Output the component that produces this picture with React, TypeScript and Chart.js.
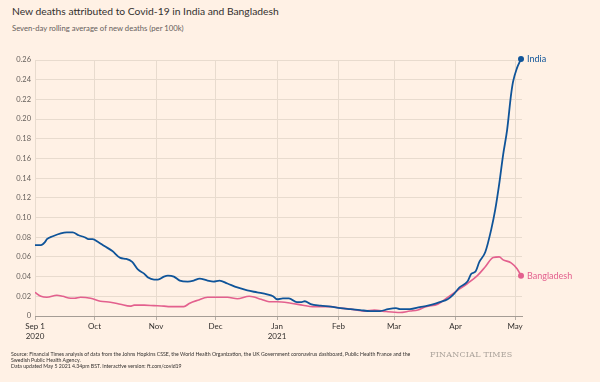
import React, { useEffect, useRef } from "react";
import { Chart, registerables } from "chart.js";

Chart.register(...registerables);

// Days since 1 Sep 2020
const monthTickDays = [0, 30, 61, 91, 122, 153, 181, 212, 242];
const monthTickLabels: string[][] = [["Sep 1", "2020"], ["Oct"], ["Nov"], ["Dec"], ["Jan", "2021"], ["Feb"], ["Mar"], ["Apr"], ["May"]];
const yTickValues = [0, 0.02, 0.04, 0.06, 0.08, 0.1, 0.12, 0.14, 0.16, 0.18, 0.2, 0.22, 0.24, 0.26];

const indiaDays = [0, 3, 5, 6, 9, 13, 16, 19, 22, 25, 27, 29, 32, 35, 39, 43, 46, 49, 52, 55, 57, 60, 62, 65, 67, 70, 73, 77, 80, 83, 87, 90, 93, 97, 102, 107, 112, 117, 120, 122, 125, 128, 132, 134, 136, 139, 144, 149, 154, 159, 164, 169, 174, 178, 182, 184, 189, 194, 198, 201, 204, 208, 211, 214, 218, 220, 222, 224, 227, 230, 232, 234, 236, 238, 240, 241, 243, 245];
const indiaDeaths = [0.072, 0.072, 0.075, 0.078, 0.081, 0.084, 0.085, 0.085, 0.082, 0.080, 0.078, 0.078, 0.075, 0.071, 0.066, 0.059, 0.058, 0.055, 0.047, 0.043, 0.039, 0.037, 0.037, 0.040, 0.041, 0.040, 0.036, 0.035, 0.036, 0.038, 0.036, 0.035, 0.036, 0.033, 0.029, 0.026, 0.024, 0.022, 0.020, 0.017, 0.018, 0.018, 0.014, 0.014, 0.015, 0.012, 0.0105, 0.0095, 0.008, 0.007, 0.006, 0.005, 0.005, 0.007, 0.008, 0.007, 0.007, 0.009, 0.0105, 0.012, 0.014, 0.017, 0.022, 0.029, 0.035, 0.043, 0.045, 0.055, 0.065, 0.088, 0.108, 0.134, 0.164, 0.189, 0.225, 0.238, 0.252, 0.261];

const bangladeshDays = [0, 3, 6, 11, 14, 18, 20, 23, 28, 33, 38, 43, 48, 50, 55, 60, 65, 68, 75, 78, 82, 87, 93, 97, 102, 108, 114, 118, 122, 129, 135, 140, 144, 149, 154, 159, 166, 171, 177, 184, 189, 193, 197, 203, 208, 213, 218, 223, 227, 231, 234, 236, 240, 243, 245];
const bangladeshDeaths = [0.024, 0.020, 0.019, 0.021, 0.020, 0.018, 0.018, 0.019, 0.018, 0.015, 0.014, 0.012, 0.010, 0.011, 0.011, 0.0105, 0.010, 0.0095, 0.0095, 0.013, 0.016, 0.019, 0.019, 0.019, 0.0175, 0.020, 0.017, 0.0145, 0.0145, 0.013, 0.011, 0.0095, 0.0095, 0.0095, 0.008, 0.007, 0.005, 0.006, 0.0045, 0.0035, 0.005, 0.006, 0.0095, 0.012, 0.019, 0.026, 0.033, 0.041, 0.050, 0.0595, 0.060, 0.057, 0.054, 0.048, 0.041];

const FONT = "Lato, 'Open Sans', sans-serif";
const INDIA_COLOR = "#0f5499";
const BANGLADESH_COLOR = "#e3608e";

const endLabels = {
  id: "endLabels",
  afterDatasetsDraw(chart: any) {
    const ctx = chart.ctx;
    chart.data.datasets.forEach((ds: any, i: number) => {
      const meta = chart.getDatasetMeta(i);
      const pt = meta.data[meta.data.length - 1];
      if (!pt) return;
      ctx.save();
      ctx.fillStyle = ds.borderColor;
      ctx.beginPath();
      ctx.arc(pt.x, pt.y, 3, 0, Math.PI * 2);
      ctx.fill();
      ctx.font = "9px " + FONT;
      ctx.textBaseline = "middle";
      ctx.textAlign = "left";
      ctx.fillText(ds.label, pt.x + 6, pt.y);
      ctx.restore();
    });
  },
};

export default function App() {
  const ref = useRef<HTMLCanvasElement>(null);
  useEffect(() => {
    document.body.style.margin = "0";
    const chart = new Chart(ref.current!, {
      type: "line",
      data: {
        datasets: [
          {
            label: "India",
            data: indiaDays.map((d, i) => ({ x: d, y: indiaDeaths[i] })),
            borderColor: INDIA_COLOR,
            borderWidth: 1.8,
            pointRadius: 0,
            cubicInterpolationMode: "monotone",
          },
          {
            label: "Bangladesh",
            data: bangladeshDays.map((d, i) => ({ x: d, y: bangladeshDeaths[i] })),
            borderColor: BANGLADESH_COLOR,
            borderWidth: 1.6,
            pointRadius: 0,
            cubicInterpolationMode: "monotone",
          },
        ],
      },
      options: {
        responsive: false,
        animation: false,
        layout: { padding: { top: 60, right: 78, left: 0, bottom: 0 } },
        plugins: { legend: { display: false }, tooltip: { enabled: false } },
        scales: {
          x: {
            type: "linear",
            min: 0,
            max: 245.5,
            afterBuildTicks: (scale: any) => {
              scale.ticks = monthTickDays.map((v) => ({ value: v }));
            },
            afterFit: (scale: any) => {
              scale.height = 66;
            },
            ticks: {
              autoSkip: false,
              maxRotation: 0,
              padding: 2,
              color: "#33302e",
              font: { family: FONT, size: 8 },
              callback: (_v: any, i: number) => monthTickLabels[i],
            },
            grid: { color: "#e8dbce", tickLength: 4, tickColor: "#b8afa6" },
            border: { color: "#a59d95", width: 1 },
          },
          y: {
            min: 0,
            max: 0.26,
            afterBuildTicks: (scale: any) => {
              scale.ticks = yTickValues.map((v) => ({ value: v }));
            },
            afterFit: (scale: any) => {
              scale.width = 35;
            },
            ticks: {
              padding: 4,
              color: "#66605c",
              font: { family: FONT, size: 7.5 },
              callback: (v: any) => (v === 0 ? "0" : Number(v).toFixed(2)),
            },
            grid: { color: "#e8dbce", drawTicks: false },
            border: { display: false },
          },
        },
      },
      plugins: [endLabels],
    } as any);
    return () => chart.destroy();
  }, []);

  return (
    <div style={{ position: "fixed", left: 0, top: 0, width: 600, height: 382, background: "#fff1e5", overflow: "hidden", fontFamily: FONT }}>
      <div style={{ position: "absolute", left: 12, top: 5, fontSize: 10.3, color: "#33302e", whiteSpace: "nowrap" }}>
        New deaths attributed to Covid-19 in India and Bangladesh
      </div>
      <div style={{ position: "absolute", left: 12, top: 23, fontSize: 7.7, color: "#66605c", whiteSpace: "nowrap" }}>
        Seven-day rolling average of new deaths (per 100k)
      </div>
      <canvas ref={ref} width={600} height={382} style={{ position: "absolute", left: 0, top: 0, width: 600, height: 382 }} />
      <div style={{ position: "absolute", left: 11, top: 351, fontSize: 5.2, lineHeight: "6.2px", color: "#33302e", whiteSpace: "nowrap" }}>
        <div>Source: Financial Times analysis of data from the Johns Hopkins CSSE, the World Health Organization, the UK Government coronavirus dashboard, Public Health France and the</div>
        <div>Swedish Public Health Agency.</div>
        <div>Data updated May 5 2021 4.34pm BST. Interactive version: ft.com/covid19</div>
      </div>
      <div style={{ position: "absolute", left: 430, top: 350, fontSize: 8, fontFamily: "'DejaVu Serif', 'Liberation Serif', serif", color: "#aaa29a", letterSpacing: 0.2, whiteSpace: "nowrap" }}>
        FINANCIAL TIMES
      </div>
    </div>
  );
}
